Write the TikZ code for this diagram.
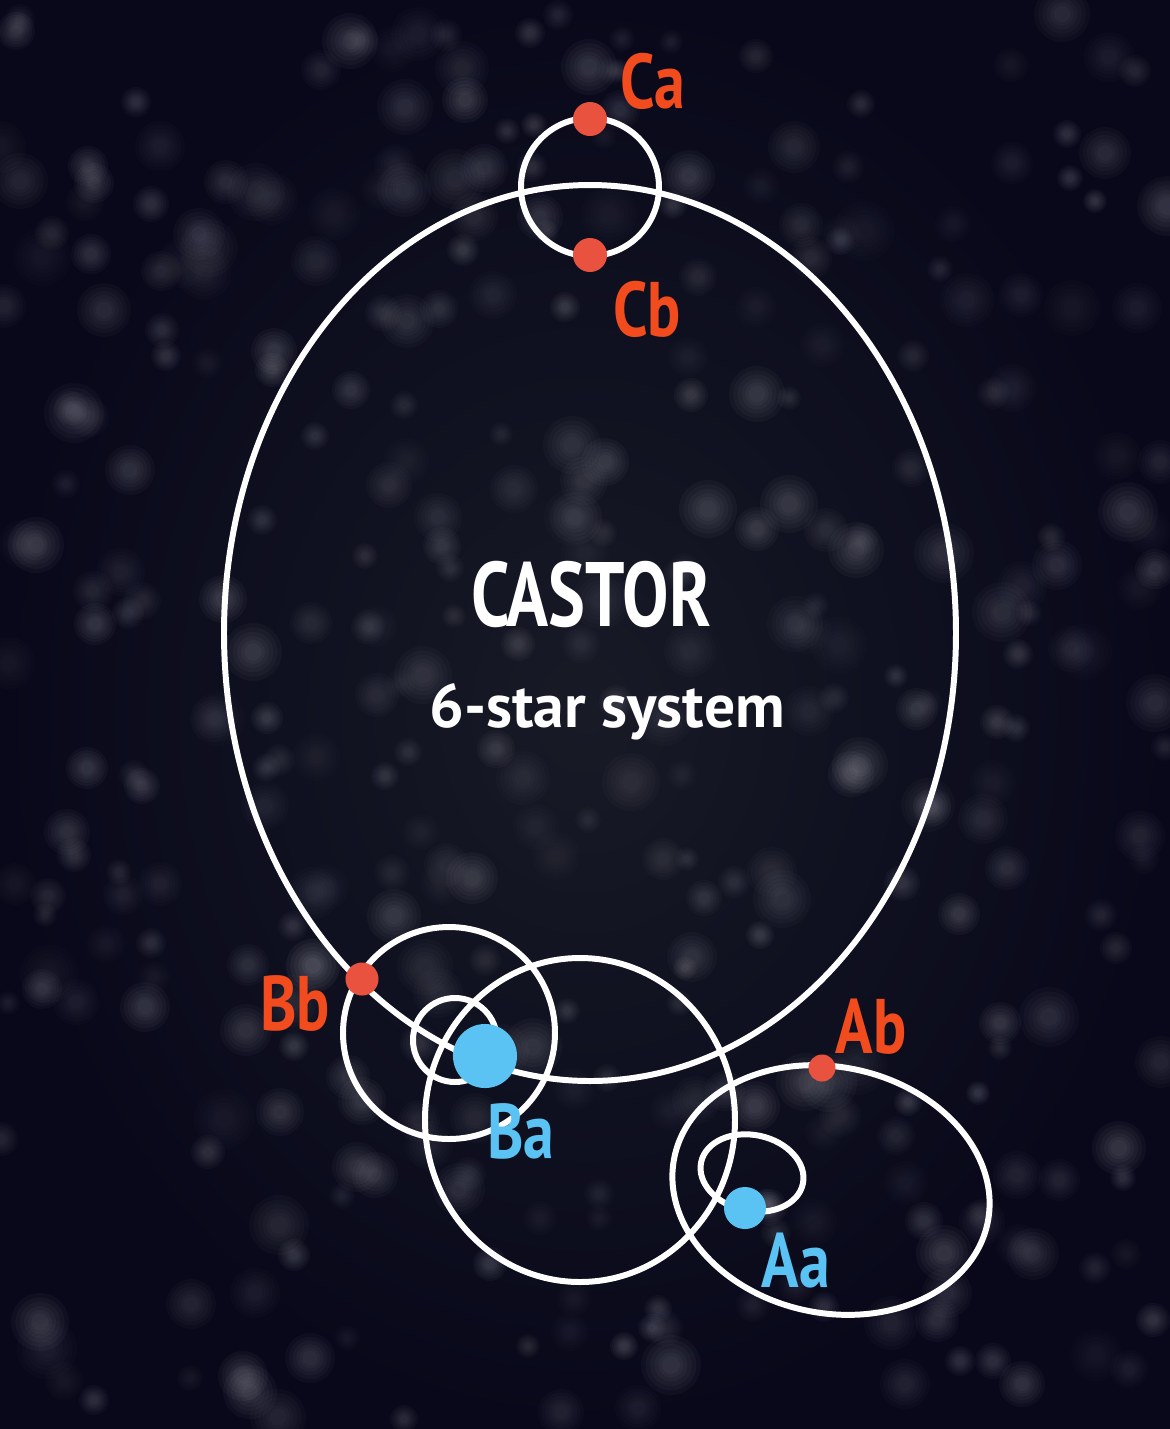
\documentclass[tikz,border=0pt]{standalone}
\usepackage{fontspec}
\setmainfont{PT Sans}
\newfontfamily\dinfont[FakeStretch=0.76]{PT Sans}
\newfontfamily\lblfont[FakeStretch=0.8]{PT Sans}
\usetikzlibrary{positioning}
\definecolor{SkyDark}{HTML}{08081A}
\definecolor{SkyMid}{HTML}{181A26}
\definecolor{StarRed}{HTML}{E8523F}
\definecolor{LabelRed}{HTML}{F24B1E}
\definecolor{StarBlue}{HTML}{5BC3F3}
\definecolor{Haze}{HTML}{C8C8D0}

\begin{document}
\begin{tikzpicture}[
  x=0.01cm, y=-0.01cm,
  orbit/.style={draw=white, line width=1.7pt},
  reddot/.style={circle, fill=StarRed, inner sep=0pt},
  bluedot/.style={circle, fill=StarBlue, inner sep=0pt},
  redlbl/.style={anchor=base, text=LabelRed, font=\lblfont\bfseries\fontsize{22}{22}\selectfont},
  bluelbl/.style={anchor=base, text=StarBlue, font=\lblfont\bfseries\fontsize{22}{22}\selectfont},
  title/.style={anchor=base, text=white, font=\dinfont\bfseries\fontsize{26}{26}\selectfont},
  subtitle/.style={anchor=base, text=white, font=\bfseries\fontsize{17.5}{17.5}\selectfont}]

  % ---- sky ----
  \shade[inner color=SkyMid, outer color=SkyDark] (0,0) rectangle (1170,1429);
  \useasboundingbox (0,0) rectangle (1170,1429);
  \pgfmathsetseed{42}
  \foreach \k in {1,...,360}{
    \pgfmathsetmacro\sx{random(0,1170)}
    \pgfmathsetmacro\sy{random(0,1429)}
    \pgfmathsetmacro\sr{random(12,30)}
    \pgfmathsetmacro\so{0.012+0.03*rnd}
    \foreach \f in {1,0.85,0.7,0.55,0.42,0.3}
      \fill[Haze, opacity=\so] (\sx,\sy) circle ({\sr*\f});
  }

  % ---- orbits ----
  \draw[orbit] (590,633) ellipse [x radius=366, y radius=448];   % A -- B
  \draw[orbit] (590,187) circle (69);                             % C pair
  \draw[orbit] (449,1033) circle (106);                           % Bb
  \draw[orbit] (455,1040) circle (42);                            % Ba wobble
  \draw[orbit] (580,1120) ellipse [x radius=155, y radius=162];   % B pair
  \draw[orbit, rotate around={-12:(831,1190)}] (831,1190) ellipse [x radius=160, y radius=123]; % Ab
  \draw[orbit, rotate around={-12:(752,1173)}] (752,1173) ellipse [x radius=52, y radius=38];   % Aa wobble

  % ---- stars ----
  \node[reddot, minimum size=0.34cm] (Ca) at (590,119) {};
  \node[reddot, minimum size=0.34cm] (Cb) at (590,255) {};
  \node[reddot, minimum size=0.33cm] (Bb) at (362,979) {};
  \node[bluedot, minimum size=0.64cm] (Ba) at (485,1056) {};
  \node[reddot, minimum size=0.27cm] (Ab) at (822,1068) {};
  \node[bluedot, minimum size=0.42cm] (Aa) at (745,1208) {};

  % ---- labels ----
  \node[redlbl]  (CaL) at (653,108)  {Ca};
  \node[redlbl]  (CbL) at (647,336)  {Cb};
  \node[redlbl]  (BbL) at (295,1030) {Bb};
  \node[bluelbl] (BaL) at (521,1158) {Ba};
  \node[redlbl]  (AbL) at (871,1053) {Ab};
  \node[bluelbl] (AaL) at (796,1287) {Aa};

  \node[title]    (name) at (591,626) {CASTOR};
  \node[subtitle] (kind) at (607,727) {6-star system};

\end{tikzpicture}
\end{document}
